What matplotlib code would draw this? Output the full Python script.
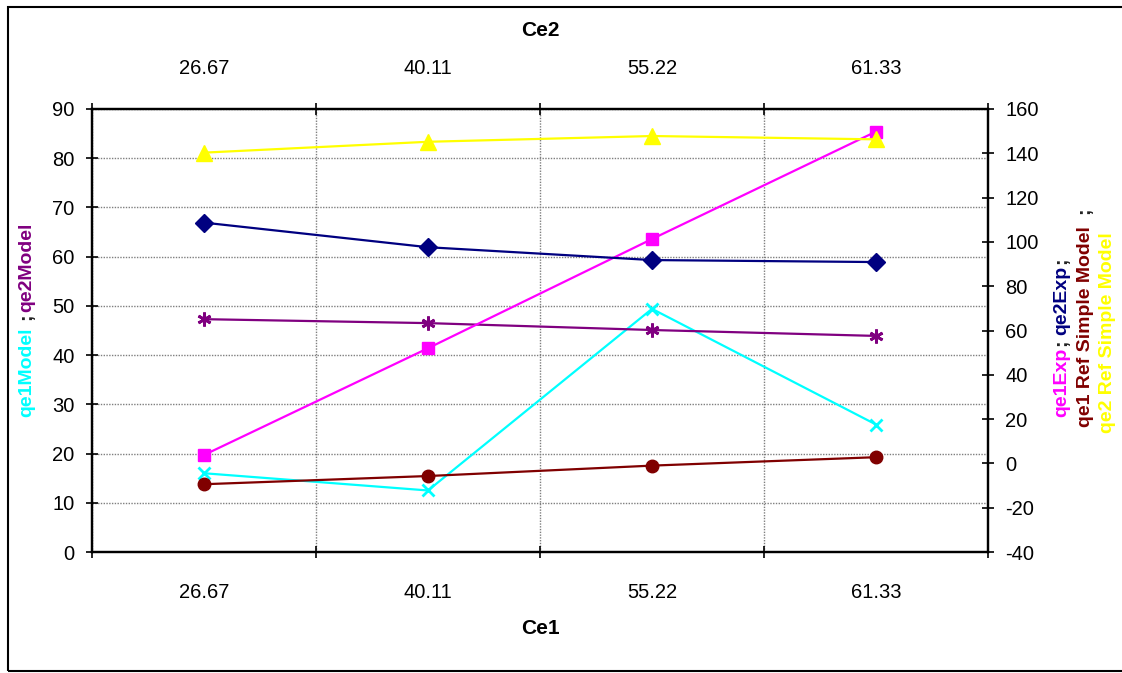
import matplotlib
matplotlib.use("Agg")
import matplotlib.pyplot as plt
from matplotlib.patches import Rectangle
from matplotlib.ticker import FixedLocator, NullFormatter

plt.rcParams['font.family'] = ['Liberation Sans', 'DejaVu Sans']
plt.rcParams['axes.unicode_minus'] = False

# Data
categories = ["26.67", "40.11", "55.22", "61.33"]
qe1_model = [16.0, 12.5, 49.4, 25.9]
qe2_model = [47.3, 46.5, 45.1, 43.9]
qe1_exp = [3.8, 52.0, 101.3, 149.8]
qe2_exp = [108.7, 97.6, 91.8, 90.9]
qe1_ref = [-9.4, -5.7, -1.0, 2.8]
qe2_ref = [140.3, 145.2, 147.8, 146.3]

W, H = 1122, 673
fig = plt.figure(figsize=(W / 100, H / 100), dpi=100)
fig.patch.set_facecolor("white")

# frame around the whole chart
fig.add_artist(Rectangle((8 / W, 1 - 671 / H), (1130 - 8) / W, (671 - 7) / H,
                         transform=fig.transFigure, fill=False,
                         edgecolor="black", linewidth=1.5))

ax = fig.add_axes([92 / W, 1 - 552 / H, (988 - 92) / W, (552 - 109) / H])
ax2 = ax.twinx()

x = list(range(len(categories)))
lw = 1.6

ax.plot(x, qe1_model, color="#00FFFF", lw=lw, marker="x", ms=9, mew=2, zorder=3)
ax.plot(x, qe2_model, color="#800080", lw=lw, marker=(6, 2, 0), ms=10, mew=2, zorder=3)

ax2.plot(x, qe1_exp, color="#FF00FF", lw=lw, marker="s", ms=9, zorder=3)
ax2.plot(x, qe2_exp, color="#000080", lw=lw, marker="D", ms=9, zorder=3)
ax2.plot(x, qe1_ref, color="#800000", lw=lw, marker="o", ms=9, zorder=3)
ax2.plot(x, qe2_ref, color="#FFFF00", lw=lw, marker="^", ms=11, zorder=3)

# axes limits and ticks
ax.set_xlim(-0.5, len(categories) - 0.5)
ax.set_ylim(0, 90)
ax.set_yticks(range(0, 91, 10))
ax2.set_ylim(-40, 160)
ax2.set_yticks(range(-40, 161, 20))

bounds = [i - 0.5 for i in range(len(categories) + 1)]
ax.xaxis.set_major_locator(FixedLocator(bounds))
ax.xaxis.set_major_formatter(NullFormatter())
ax.xaxis.set_minor_locator(FixedLocator(x))
ax.set_xticklabels(categories, minor=True)

tick_font = dict(labelsize=14.5)
ax.tick_params(axis="x", which="major", direction="inout", length=9, width=1.2,
               top=True, bottom=True)
ax.tick_params(axis="x", which="minor", length=0, pad=22, top=True, bottom=True,
               labeltop=True, labelbottom=True, **tick_font)
ax.tick_params(axis="y", direction="inout", length=9, width=1.2, pad=8, **tick_font)
ax2.tick_params(axis="y", direction="inout", length=9, width=1.2, pad=8, **tick_font)

for a in (ax, ax2):
    for s in a.spines.values():
        s.set_linewidth(1.6)
        s.set_color("black")

# dotted grid
ax.grid(True, which="major", axis="both", color="#7f7f7f", linestyle=(0, (1, 1)),
        linewidth=1.0)
ax.set_axisbelow(True)

fig.text(540 / W, 1 - 629 / H, "Ce1", fontsize=15, fontweight="bold",
         ha="center", va="center")
fig.text(540 / W, 1 - 31 / H, "Ce2", fontsize=15, fontweight="bold",
         ha="center", va="center")

# multi-coloured rotated axis titles
renderer = fig.canvas.get_renderer()


def stacked_label(x_px, y_start_px, pieces, size=14):
    y = y_start_px
    for item in pieces:
        if isinstance(item, (int, float)):
            y -= item
            continue
        txt, color = item
        t = fig.text(x_px / W, 1 - y / H, txt, rotation=90, ha="center", va="bottom",
                     color=color, fontsize=size, fontweight="bold")
        bb = t.get_window_extent(renderer)
        y -= bb.height


stacked_label(27, 417, [("qe1Model", "#00FFFF"), 7, (";", "#222222"), 2,
                        ("qe2Model", "#800080")])
stacked_label(1062, 417, [("qe1Exp", "#FF00FF"), 2, (";", "#222222"), 4,
                          ("qe2Exp", "#000080"), 2, (";", "#222222")])
stacked_label(1085, 427, [("qe1 Ref Simple Model", "#800000"), 12, (";", "#222222")])
stacked_label(1107, 433, [("qe2 Ref Simple Model", "#FFFF00")])

fig.savefig("out.png", dpi=100)
